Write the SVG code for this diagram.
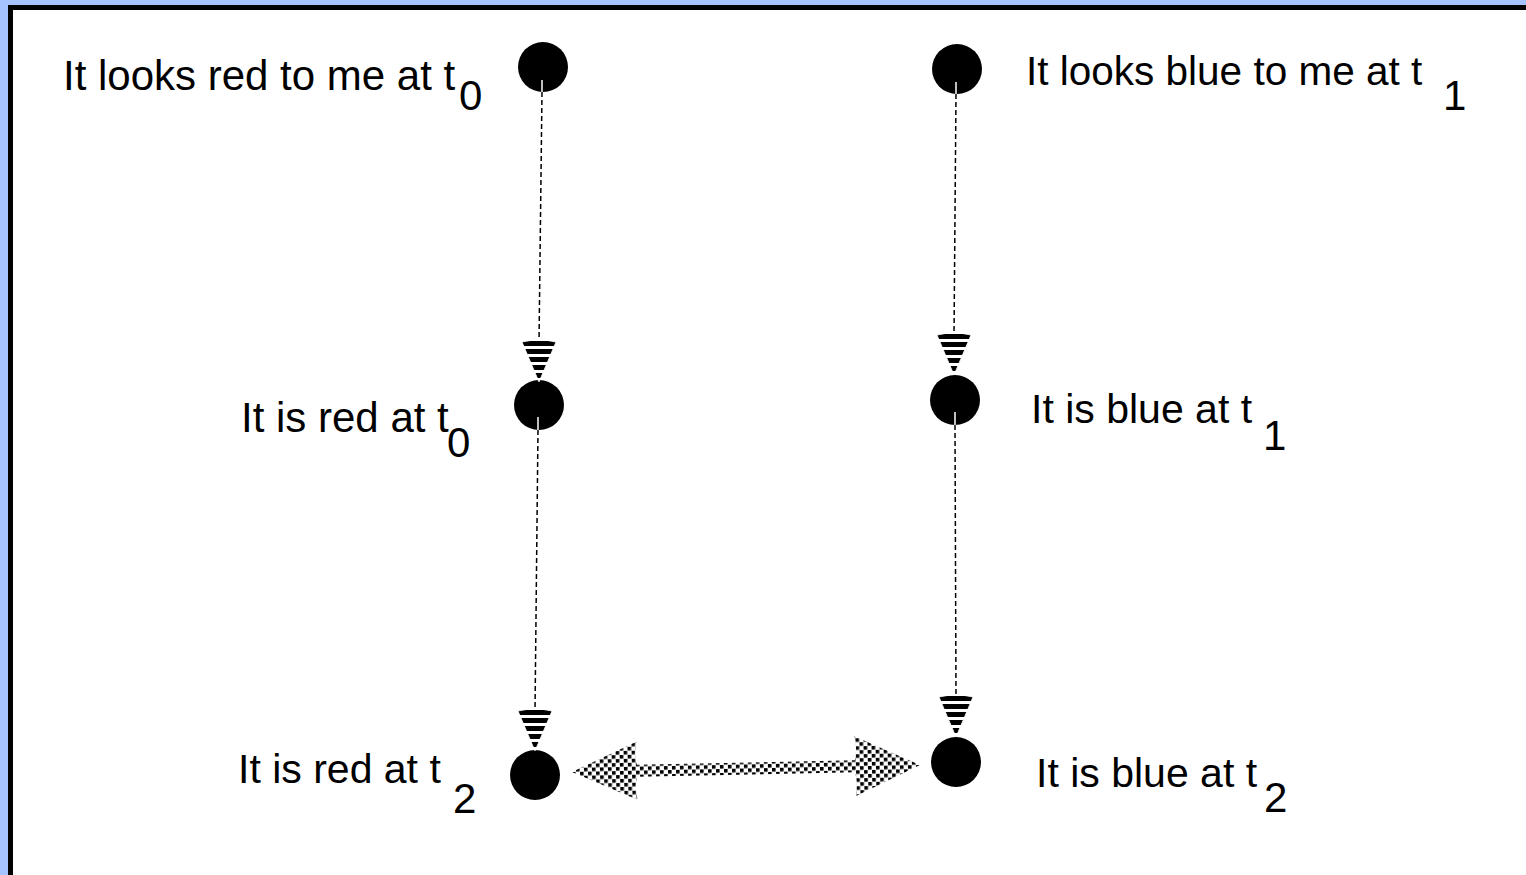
<svg xmlns="http://www.w3.org/2000/svg" width="1526" height="875" viewBox="0 0 1526 875">
  <defs>
    <style>
      .lbl { font-family: "Liberation Sans", Arial, sans-serif; font-size: 42px; fill: #000; }
      .sm { font-size: 41px; }
      .xs { font-size: 40.5px; }
      .dot { fill: #000; }
      .dash { stroke: #000; stroke-width: 1.5; stroke-dasharray: 5 3; fill: none; }
      .inner { stroke: #fff; stroke-width: 1.5; fill: none; }
    </style>
    <pattern id="stripes" patternUnits="userSpaceOnUse" x="0" y="-41" width="40" height="8">
      <rect x="0" y="0" width="40" height="5" fill="#000"/>
      <rect x="0" y="5" width="40" height="3" fill="#fff"/>
    </pattern>
    <pattern id="speckle" patternUnits="userSpaceOnUse" width="8" height="8">
      <rect width="8" height="8" fill="#fff"/>
      <rect x="0" y="0" width="3.6" height="3.6" fill="#000"/>
      <rect x="4" y="4" width="3.6" height="3.6" fill="#000"/>
    </pattern>
    <path id="head" d="M-17,-40 Q0,-44 17,-40 L0,0 Z" fill="url(#stripes)" stroke="#fff" stroke-width="0.8"/>
  </defs>

  <!-- background and frame -->
  <rect x="0" y="0" width="1526" height="875" fill="#a4c3ff"/>
  <rect x="10.5" y="7.5" width="1600" height="1000" fill="#fff" stroke="#000" stroke-width="5"/>

  <!-- nodes -->
  <g id="node-looks-red">
    <circle class="dot" cx="543" cy="67" r="25"/>
    <text class="lbl" x="63" y="90">It looks red to me at t</text>
    <text class="lbl" x="459" y="110">0</text>
  </g>
  <g id="node-looks-blue">
    <circle class="dot" cx="957" cy="69" r="25"/>
    <text class="lbl xs" x="1026" y="85">It looks blue to me at t</text>
    <text class="lbl" x="1443" y="110">1</text>
  </g>
  <g id="node-red-t0">
    <circle class="dot" cx="539" cy="405" r="25"/>
    <text class="lbl" x="241" y="432">It is red at t</text>
    <text class="lbl" x="447" y="457">0</text>
  </g>
  <g id="node-blue-t1">
    <circle class="dot" cx="955" cy="400" r="25"/>
    <text class="lbl sm" x="1031" y="423">It is blue at t</text>
    <text class="lbl" x="1263" y="450">1</text>
  </g>
  <g id="node-red-t2">
    <circle class="dot" cx="535" cy="775" r="25"/>
    <text class="lbl sm" x="238" y="783">It is red at t</text>
    <text class="lbl" x="453" y="813">2</text>
  </g>
  <g id="node-blue-t2">
    <circle class="dot" cx="956" cy="762" r="25"/>
    <text class="lbl sm" x="1036" y="787">It is blue at t</text>
    <text class="lbl" x="1264" y="812">2</text>
  </g>

  <!-- connectors -->
  <g id="connectors">
    <line class="inner" x1="542" y1="80" x2="542" y2="92"/>
    <line class="dash" x1="542" y1="92" x2="539" y2="343"/>
    <use href="#head" transform="translate(539,382)"/>

    <line class="inner" x1="538" y1="417" x2="538" y2="430"/>
    <line class="dash" x1="538" y1="430" x2="535" y2="712"/>
    <use href="#head" transform="translate(535,751)"/>

    <line class="inner" x1="956" y1="82" x2="956" y2="94"/>
    <line class="dash" x1="956" y1="94" x2="954" y2="336"/>
    <use href="#head" transform="translate(954,375)"/>

    <line class="inner" x1="955" y1="412" x2="955" y2="425"/>
    <line class="dash" x1="955" y1="425" x2="956" y2="698"/>
    <use href="#head" transform="translate(956,737)"/>

    <path transform="translate(572,772) rotate(-1.15)" fill="url(#speckle)"
      d="M0,0 L65,-29 Q62,-15 65,-6 L283,-6 Q286,-18 283,-30 L348,0 L283,30 Q286,18 283,6 L65,6 Q62,15 65,29 Z"/>
  </g>
</svg>
